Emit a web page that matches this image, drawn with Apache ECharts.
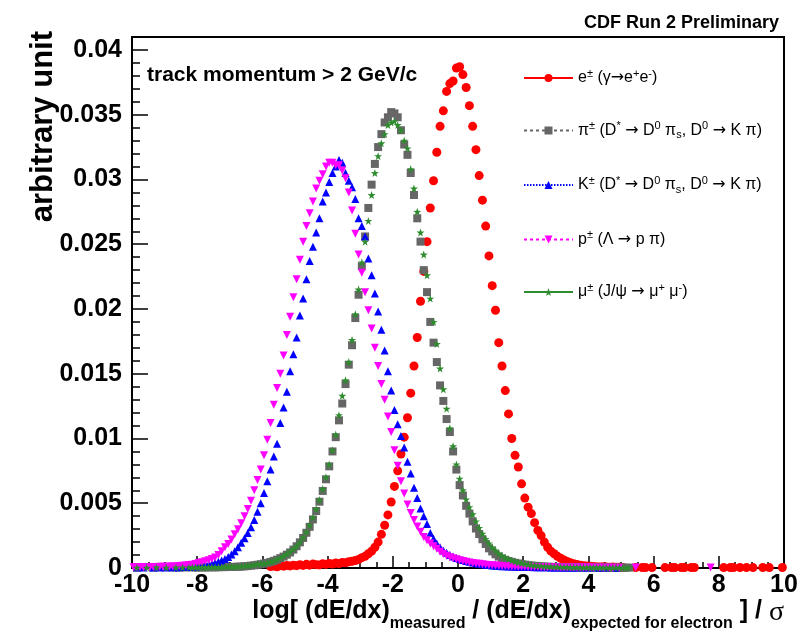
<!DOCTYPE html>
<html>
<head>
<meta charset="utf-8">
<script src="https://cdn.jsdelivr.net/npm/echarts@6/dist/echarts.min.js"></script>
<style>
html,body{margin:0;padding:0;background:#fff;}
#chart{width:801px;height:642px;}
</style>
</head>
<body>
<div id="chart"></div>
<script>
// ---- binning of the histograms: 200 bins of 0.1 from -10 to 10 ----
const _ = null;            // empty bin (not drawn)
const binMin = -10;
const binWidth = 0.1;
const nBins = 200;
const binCenters = [];
for (let i = 0; i < nBins; i++) binCenters.push(+(binMin + binWidth * (i + 0.5)).toFixed(2));

const xTickValues = [-10, -8, -6, -4, -2, 0, 2, 4, 6, 8, 10];
const yTickLabels = ['0', '0.005', '0.01', '0.015', '0.02', '0.025', '0.03', '0.035', '0.04'];

// ---- e± (γ→e+e-) ----
const eValues = [
 _,_,_,_,_,_,_,_,_,_,
 _,_,_,_,_,_,_,_,_,_,
 _,_,_,_,_,_,_,_,_,_,
 _,_,_,_,_,_,_,_,_,_,
 _,_,0.00012,0.00015,0.0001,0.00018,0.00014,0.0002,0.00016,0.00022,
 0.00018,0.00025,0.0002,0.00028,0.00022,0.0003,0.00026,0.00024,0.00032,0.00028,
 0.00035,0.0003,0.00038,0.00034,0.00042,0.0004,0.00048,0.00052,0.00058,0.00065,
 0.0008,0.0009,0.0011,0.0013,0.0016,0.002,0.0026,0.0033,0.0041,0.0051,
 0.0063,0.0075,0.0088,0.0101,0.0116,0.0135,0.0156,0.0178,0.0206,0.0229,
 0.0252,0.0278,0.0299,0.0321,0.0341,0.0353,0.0368,0.0374,0.0376,0.0386,
 0.0387,0.0381,0.0371,0.0357,0.0341,0.0323,0.0303,0.0284,0.0264,0.0241,
 0.0218,0.0199,0.0174,0.0156,0.0137,0.0119,0.0100,0.0087,0.0078,0.0065,
 0.0054,0.0047,0.0042,0.0035,0.0029,0.0025,0.0020,0.0016,0.0013,0.0011,
 0.0009,0.00075,0.00062,0.0005,0.0004,0.00032,0.00027,0.00022,0.00018,0.00015,
 0.00013,0.00011,0.0001,0.00008,0.00009,0.00007,0.00006,0.00007,0.00005,0.00006,
 0.00004,_,_,_,0.00004,_,0.00003,0.00004,_,0.00003,
 _,_,_,0.00003,_,0.00004,0.00003,_,0.00003,0.00004,
 _,0.00003,0.00004,_,_,_,_,_,_,_,
 _,0.00003,_,0.00004,0.00003,_,0.00004,_,0.00003,_,
 0.00003,_,_,0.00004,_,0.00003,_,_,_,0.00004
];

// ---- π± (D*→D0 πs, D0→K π) ----
const piValues = [
 _,0.00003,_,_,_,_,0.00003,_,_,_,
 _,_,0.00004,_,0.00003,_,0.00004,_,0.00005,0.00004,
 0.00004,0.00005,0.00004,0.00005,0.00006,0.00005,0.00006,0.00007,0.00007,0.00008,
 0.00008,0.00009,0.0001,0.00011,0.00013,0.00015,0.00018,0.00021,0.00025,0.00029,
 0.00034,0.0004,0.00047,0.00055,0.00064,0.00076,0.00088,0.00103,0.0012,0.00142,
 0.00168,0.00198,0.00232,0.00272,0.00318,0.00375,0.0044,0.00512,0.00595,0.00685,
 0.00785,0.009,0.0101,0.0114,0.0127,0.0142,0.0157,0.0172,0.0193,0.0211,
 0.0233,0.0256,0.0278,0.0296,0.0312,0.0325,0.0335,0.0344,0.0348,0.0352,
 0.0351,0.0348,0.0338,0.0327,0.0319,0.0305,0.0288,0.027,0.0252,0.023,
 0.0213,0.019,0.0174,0.0159,0.0141,0.0129,0.0115,0.0105,0.009,0.0076,
 0.0064,0.0056,0.0048,0.0042,0.0036,0.00305,0.00262,0.00222,0.00185,0.00152,
 0.00128,0.00106,0.00088,0.00074,0.00063,0.00054,0.00047,0.0004,0.00035,0.0003,
 0.00026,0.00022,0.00019,0.00017,0.00015,0.00013,0.00011,0.0001,0.00009,0.00008,
 0.00007,0.00007,0.00006,0.00006,0.00005,0.00005,0.00005,0.00004,0.00004,0.00004,
 0.00004,0.00003,0.00004,0.00003,0.00003,0.00004,0.00003,0.00003,0.00003,0.00003,
 0.00003,0.00002,0.00003,_,_,_,_,_,_,_,
 _,_,_,_,_,_,_,_,_,_,
 _,_,_,_,_,_,_,_,_,_,
 _,_,_,_,_,_,_,_,_,_,
 _,_,_,_,_,_,_,_,_,_
];

// ---- K± (D*→D0 πs, D0→K π) ----
const kValues = [
 _,0.00003,_,0.00004,_,_,0.00003,_,0.00004,_,
 0.00004,_,0.00005,0.00005,0.00006,0.00007,0.00008,0.00009,0.0001,0.00012,
 0.00016,0.00019,0.00023,0.00027,0.00033,0.0004,0.00048,0.00058,0.0007,0.00085,
 0.00105,0.0013,0.0016,0.00195,0.0023,0.0027,0.00315,0.0037,0.00435,0.005,
 0.0058,0.0067,0.0076,0.0086,0.0096,0.0112,0.0124,0.0136,0.0152,0.0165,
 0.0178,0.0195,0.0208,0.0223,0.0237,0.0248,0.0259,0.027,0.0283,0.029,
 0.0298,0.0305,0.031,0.0315,0.0313,0.0305,0.0299,0.0294,0.0285,0.027,
 0.0264,0.0256,0.0239,0.0226,0.0212,0.0198,0.0184,0.0168,0.0152,0.0137,
 0.0122,0.0111,0.0102,0.0093,0.0082,0.0073,0.0062,0.0054,0.0046,0.004,
 0.0034,0.0027,0.00225,0.0019,0.0016,0.00135,0.00118,0.001,0.00088,0.00078,
 0.0007,0.00062,0.00055,0.00048,0.00042,0.00037,0.00033,0.00029,0.00026,0.00023,
 0.0002,0.00018,0.00016,0.00014,0.00013,0.00012,0.00011,0.0001,0.00009,0.00008,
 0.00008,0.00007,0.00007,0.00006,0.00006,0.00005,0.00005,0.00005,0.00004,0.00004,
 0.00004,0.00004,0.00003,0.00003,0.00004,0.00003,0.00003,_,0.00003,0.00003,
 _,0.00003,_,0.00002,_,0.00003,_,_,0.00002,_,
 _,_,_,_,_,_,_,_,_,_,
 _,_,_,_,_,_,_,_,_,_,
 _,_,_,_,_,_,_,_,_,_,
 _,_,_,_,_,_,_,_,_,_,
 _,_,_,_,_,_,_,_,_,_
];

// ---- p± (Λ→p π) ----
const pValues = [
 0.00006,0.00005,0.00007,0.00006,0.00008,0.00007,0.00008,0.00008,0.00009,0.00009,
 0.0001,0.00011,0.00012,0.00013,0.00015,0.00017,0.0002,0.00023,0.00026,0.0003,
 0.00038,0.00045,0.00052,0.0006,0.0007,0.00082,0.001,0.0013,0.0016,0.00185,
 0.0022,0.0026,0.003,0.00345,0.004,0.00455,0.0052,0.006,0.0068,0.0076,
 0.0087,0.0099,0.0112,0.0126,0.0139,0.015,0.0164,0.018,0.0194,0.0209,
 0.0223,0.0238,0.0252,0.0264,0.0274,0.0283,0.0293,0.0299,0.0304,0.031,
 0.0313,0.0313,0.0311,0.0311,0.0307,0.0301,0.029,0.0276,0.0258,0.0242,
 0.0228,0.0213,0.0199,0.0185,0.017,0.0156,0.0142,0.013,0.0117,0.0105,
 0.0091,0.0079,0.0067,0.00575,0.0049,0.00425,0.0037,0.0032,0.0028,0.0024,
 0.00215,0.0019,0.00168,0.00148,0.00125,0.00108,0.00095,0.00083,0.00075,0.00068,
 0.0006,0.00054,0.00048,0.00043,0.00038,0.00035,0.00032,0.00029,0.00026,0.00024,
 0.00022,0.0002,0.00018,0.00016,0.00015,0.00014,0.00012,0.00011,0.0001,0.0001,
 0.00009,0.00008,0.00008,0.00007,0.00007,0.00006,0.00006,0.00005,0.00005,0.00005,
 0.00004,0.00004,0.00004,0.00004,0.00003,0.00003,0.00004,0.00003,0.00003,0.00003,
 0.00003,0.00003,_,0.00003,0.00002,_,0.00003,0.00002,_,0.00002,
 _,_,_,_,0.00003,_,_,_,_,_,
 _,_,_,_,_,_,_,_,_,_,
 _,_,_,_,_,_,_,0.00003,_,_,
 _,_,_,_,_,_,_,_,_,_,
 _,_,_,_,_,_,_,_,_,_
];

// ---- μ± (J/ψ→μ+ μ-) ----
const muValues = [
 _,0.00003,_,_,0.00003,_,_,0.00004,_,_,
 0.00003,_,_,0.00004,_,0.00004,_,0.00005,0.00004,0.00005,
 0.00005,0.00005,0.00006,0.00006,0.00007,0.00007,0.00008,0.00008,0.00009,0.0001,
 0.0001,0.00011,0.00012,0.00014,0.00016,0.00019,0.00022,0.00026,0.0003,0.00035,
 0.00035,0.00041,0.00048,0.00056,0.00066,0.00078,0.00092,0.00108,0.00126,0.00146,
 0.0017,0.002,0.00235,0.00278,0.0033,0.0039,0.00455,0.00525,0.0061,0.007,
 0.008,0.0091,0.0103,0.0118,0.0133,0.0145,0.0159,0.0176,0.0196,0.0215,
 0.0236,0.0252,0.0268,0.0288,0.0305,0.0318,0.0328,0.0335,0.0342,0.0344,
 0.0345,0.0342,0.0338,0.033,0.0324,0.0308,0.0293,0.0275,0.0259,0.0242,
 0.0226,0.0208,0.019,0.0173,0.0154,0.0138,0.0123,0.0108,0.0094,0.008,
 0.0069,0.006,0.0053,0.0047,0.00415,0.0036,0.0031,0.00265,0.00225,0.0019,
 0.0016,0.00135,0.00112,0.00094,0.0008,0.00068,0.00058,0.0005,0.00043,0.00037,
 0.00032,0.00028,0.00024,0.00021,0.00018,0.00016,0.00014,0.00012,0.00011,0.0001,
 0.00009,0.00008,0.00008,0.00007,0.00007,0.00006,0.00006,0.00005,0.00005,0.00005,
 0.00004,0.00004,0.00004,0.00004,0.00003,0.00003,0.00003,0.00003,0.00003,0.00003,
 0.00003,0.00002,0.00003,_,_,_,_,_,_,_,
 _,_,_,_,_,_,_,_,_,_,
 _,_,_,_,_,_,_,_,_,_,
 _,_,_,_,_,_,_,_,_,_,
 _,_,_,_,_,_,_,_,_,_
];

const seriesNames = ['e', 'pi', 'K', 'p', 'mu'];
const legendTexts = {
  e:  '{n|e}{sup|±}{n| (γ}{a|→}{n|e}{sup|+}{n|e}{sup|-}{n|)}',
  pi: '{n|π}{sup|±}{n| (D}{sup|*}{n| }{a|→}{n| D}{sup|0}{n| π}{sub|s}{n|, D}{sup|0}{n| }{a|→}{n| K π)}',
  K:  '{n|K}{sup|±}{n| (D}{sup|*}{n| }{a|→}{n| D}{sup|0}{n| π}{sub|s}{n|, D}{sup|0}{n| }{a|→}{n| K π)}',
  p:  '{n|p}{sup|±}{n| (Λ }{a|→}{n| p π)}',
  mu: '{n|μ}{sup|±}{n| (J/ψ }{a|→}{n| μ}{sup|+}{n| μ}{sup|-}{n|)}'
};
const xTitle = '{b|log[ (dE/dx)}{s|measured}{b| / (dE/dx)}{s|expected for electron}{b| ] / }{g|σ}';
const yTitle = 'arbitrary unit';
const note = 'track momentum > 2 GeV/c';
const mainTitle = 'CDF Run 2 Preliminary';

const FONT = '"Liberation Sans", Arial, Helvetica, sans-serif';
const STAR = 'path://M50,0L61.8,35.1L98.5,35.3L69,57.2L79.4,92.6L50,71.3L20.6,92.6L31,57.2L1.5,35.3L38.2,35.1Z';
const DOWN_TRI = 'path://M0,0L10,0L5,8.66Z';

function mkSeries(name, values, symbol, size, color, z) {
  return {
    name: name,
    type: 'line',
    data: binCenters.map((x, i) => [x, values[i]]),
    symbol: symbol,
    symbolSize: size,
    showSymbol: true,
    showAllSymbol: true,
    connectNulls: false,
    lineStyle: { width: 0, opacity: 0, color: color },
    itemStyle: { color: color, borderWidth: 0 },
    z: z,
    silent: true,
    animation: false
  };
}

const chart = echarts.init(document.getElementById('chart'), null, { renderer: 'canvas' });

const option = {
  animation: false,
  backgroundColor: '#ffffff',
  title: {
    text: mainTitle,
    right: 17, top: 9,
    textStyle: { fontFamily: FONT, fontWeight: 'bold', fontSize: 18, color: '#000' }
  },
  grid: {
    left: 132, right: 17, top: 37, bottom: 74,
    containLabel: false,
    outerBoundsMode: 'none',
    show: true, borderColor: '#000', borderWidth: 2, backgroundColor: 'transparent'
  },
  xAxis: {
    type: 'value', min: -10, max: 10, interval: 2,
    axisLine: { show: true, onZero: false, lineStyle: { color: '#000', width: 2 } },
    axisTick: { show: true, inside: true, length: 12, lineStyle: { color: '#000', width: 1.5 } },
    minorTick: { show: true, splitNumber: 4, length: 6, lineStyle: { color: '#000', width: 1.5 } },
    splitLine: { show: false },
    axisLabel: { fontFamily: FONT, fontWeight: 'bold', fontSize: 25, color: '#000', margin: 5 }
  },
  yAxis: [{
    type: 'value', min: 0, max: 0.041, interval: 0.005,
    axisLine: { show: true, onZero: false, lineStyle: { color: '#000', width: 2 } },
    axisTick: { show: true, inside: true, length: 16, lineStyle: { color: '#000', width: 1.5 } },
    splitLine: { show: false },
    axisLabel: {
      fontFamily: FONT, fontWeight: 'bold', fontSize: 25, color: '#000', margin: 10,
      showMaxLabel: false,
      formatter: function (v) {
        const idx = Math.round(v / 0.005);
        return (Math.abs(v - idx * 0.005) < 1e-9 && idx < yTickLabels.length) ? yTickLabels[idx] : '';
      }
    }
  }, {
    type: 'value', min: 0, max: 0.041, interval: 0.001, position: 'left',
    axisLine: { show: false, onZero: false },
    axisTick: { show: true, inside: true, length: 8, lineStyle: { color: '#000', width: 1.5 } },
    axisLabel: { show: false },
    splitLine: { show: false }
  }],
  legend: {
    orient: 'vertical',
    left: 523, top: 68,
    padding: 0,
    itemWidth: 49, itemHeight: 10,
    itemGap: 34.5,
    selectedMode: false,
    data: [
      { name: 'e',  lineStyle: { width: 2, opacity: 1, type: 'solid' } },
      { name: 'pi', lineStyle: { width: 2, opacity: 1, type: [3, 3] } },
      { name: 'K',  lineStyle: { width: 2, opacity: 1, type: [1.5, 1.5] } },
      { name: 'p',  lineStyle: { width: 2, opacity: 1, type: [3, 3] } },
      { name: 'mu', lineStyle: { width: 2, opacity: 1, type: 'solid' } }
    ],
    formatter: function (name) { return legendTexts[name]; },
    textStyle: {
      rich: {
        n: { fontFamily: FONT, fontSize: 16, lineHeight: 20, color: '#000' },
        a: { fontFamily: '"DejaVu Sans", sans-serif', fontSize: 16, lineHeight: 20, color: '#000' },
        sup: { fontFamily: FONT, fontSize: 11, lineHeight: 12, verticalAlign: 'top', color: '#000' },
        sub: { fontFamily: FONT, fontSize: 11, lineHeight: 12, verticalAlign: 'bottom', color: '#000' }
      }
    }
  },
  graphic: [
    {
      type: 'text', x: 147, y: 75, z: 100,
      style: { text: note, font: 'bold 21px ' + FONT, fill: '#000', verticalAlign: 'middle', align: 'left' }
    },
    {
      type: 'text', x: 43, y: 31, rotation: Math.PI / 2, z: 100,
      style: { text: yTitle, font: 'bold 31px ' + FONT, fill: '#000', verticalAlign: 'middle', align: 'right' }
    },
    {
      type: 'text', x: 784, y: 599, z: 100,
      style: {
        text: xTitle, align: 'right', verticalAlign: 'top', fill: '#000',
        rich: {
          b: { fontFamily: FONT, fontWeight: 'bold', fontSize: 25, lineHeight: 27, verticalAlign: 'top', fill: '#000' },
          s: { fontFamily: FONT, fontWeight: 'bold', fontSize: 16, lineHeight: 50, verticalAlign: 'middle', fill: '#000' },
          g: { fontFamily: '"Liberation Serif", "DejaVu Serif", serif', fontSize: 28, lineHeight: 27, verticalAlign: 'top', fill: '#000' }
        }
      }
    }
  ],
  series: [
    mkSeries('e',  eValues,  'circle',   9, '#ff0000', 2),
    mkSeries('pi', piValues, 'rect',     8, '#666666', 3),
    mkSeries('K',  kValues,  'triangle', 8, '#0000ff', 4),
    mkSeries('p',  pValues,  DOWN_TRI,   8, '#ff00ff', 5),
    mkSeries('mu', muValues, STAR,       8, '#2e8b2e', 6)
  ]
};
chart.setOption(option);
</script>
</body>
</html>
